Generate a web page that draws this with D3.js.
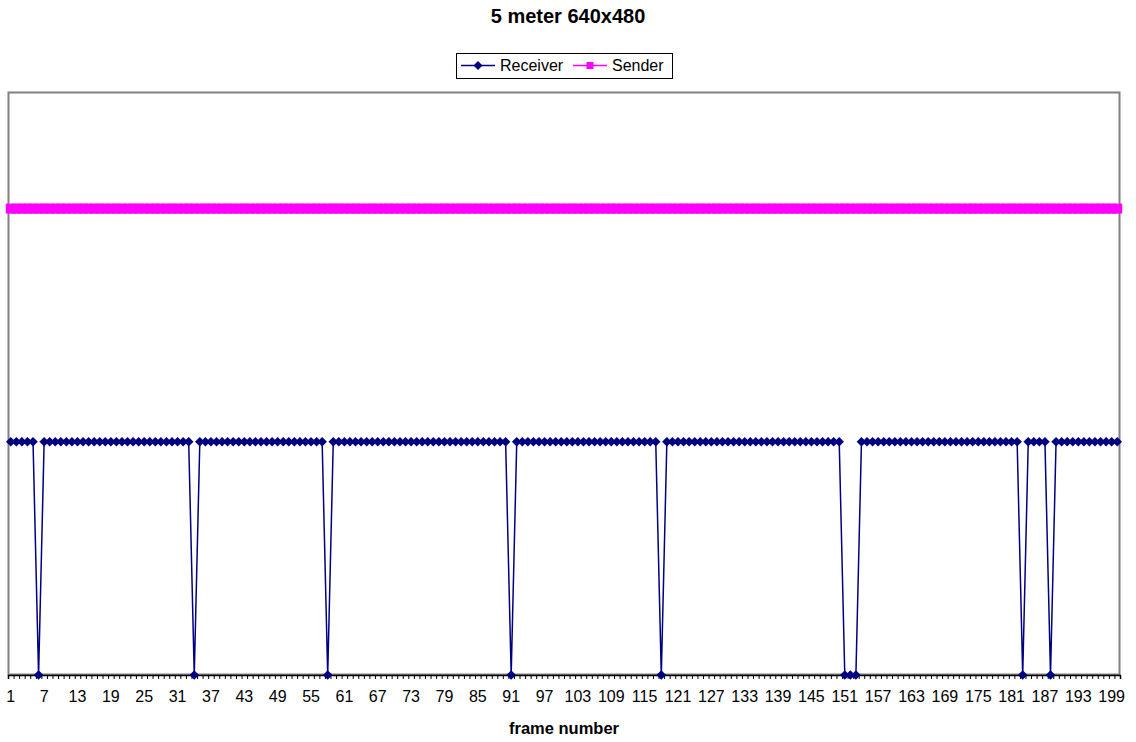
<!DOCTYPE html>
<html>
<head>
<meta charset="utf-8">
<script src="https://cdn.jsdelivr.net/npm/d3@7"></script>
<style>
  body { margin: 0; background: #fff; }
  text { font-family: Arial, "Liberation Sans", sans-serif; }
</style>
</head>
<body>
<div id="chart"></div>
<script>
// chart data
const title = "5 meter 640x480";
const xTitle = "frame number";
const seriesNames = ["Receiver", "Sender"];

// frame numbers 1..200
const frames = d3.range(1, 201);

// received frames (20 frames per row)
const receiver = [
    10, 10, 10, 10, 10, 0, 10, 10, 10, 10, 10, 10, 10, 10, 10, 10, 10, 10, 10, 10,
    10, 10, 10, 10, 10, 10, 10, 10, 10, 10, 10, 10, 10, 0, 10, 10, 10, 10, 10, 10,
    10, 10, 10, 10, 10, 10, 10, 10, 10, 10, 10, 10, 10, 10, 10, 10, 10, 0, 10, 10,
    10, 10, 10, 10, 10, 10, 10, 10, 10, 10, 10, 10, 10, 10, 10, 10, 10, 10, 10, 10,
    10, 10, 10, 10, 10, 10, 10, 10, 10, 10, 0, 10, 10, 10, 10, 10, 10, 10, 10, 10,
    10, 10, 10, 10, 10, 10, 10, 10, 10, 10, 10, 10, 10, 10, 10, 10, 10, 0, 10, 10,
    10, 10, 10, 10, 10, 10, 10, 10, 10, 10, 10, 10, 10, 10, 10, 10, 10, 10, 10, 10,
    10, 10, 10, 10, 10, 10, 10, 10, 10, 10, 0, 0, 0, 10, 10, 10, 10, 10, 10, 10,
    10, 10, 10, 10, 10, 10, 10, 10, 10, 10, 10, 10, 10, 10, 10, 10, 10, 10, 10, 10,
    10, 10, 0, 10, 10, 10, 10, 0, 10, 10, 10, 10, 10, 10, 10, 10, 10, 10, 10, 10
];

// sent frames (20 frames per row)
const sender = [
    20, 20, 20, 20, 20, 20, 20, 20, 20, 20, 20, 20, 20, 20, 20, 20, 20, 20, 20, 20,
    20, 20, 20, 20, 20, 20, 20, 20, 20, 20, 20, 20, 20, 20, 20, 20, 20, 20, 20, 20,
    20, 20, 20, 20, 20, 20, 20, 20, 20, 20, 20, 20, 20, 20, 20, 20, 20, 20, 20, 20,
    20, 20, 20, 20, 20, 20, 20, 20, 20, 20, 20, 20, 20, 20, 20, 20, 20, 20, 20, 20,
    20, 20, 20, 20, 20, 20, 20, 20, 20, 20, 20, 20, 20, 20, 20, 20, 20, 20, 20, 20,
    20, 20, 20, 20, 20, 20, 20, 20, 20, 20, 20, 20, 20, 20, 20, 20, 20, 20, 20, 20,
    20, 20, 20, 20, 20, 20, 20, 20, 20, 20, 20, 20, 20, 20, 20, 20, 20, 20, 20, 20,
    20, 20, 20, 20, 20, 20, 20, 20, 20, 20, 20, 20, 20, 20, 20, 20, 20, 20, 20, 20,
    20, 20, 20, 20, 20, 20, 20, 20, 20, 20, 20, 20, 20, 20, 20, 20, 20, 20, 20, 20,
    20, 20, 20, 20, 20, 20, 20, 20, 20, 20, 20, 20, 20, 20, 20, 20, 20, 20, 20, 20
];

const yMax = 25;
// labelled frames, every 6th
const tickLabels = d3.range(1, 201, 6);

// set dimensions
const width = 1136,
    height = 742,
    margin = { top: 92, right: 16, bottom: 67, left: 8 };

const svg = d3.select("#chart")
    .append("svg")
    .attr("width", width)
    .attr("height", height);

// scales
const xScale = d3.scaleBand()
    .domain(frames)
    .range([margin.left, width - margin.right])
    .padding(0);

const xEdge = d3.scaleLinear()
    .domain([0, frames.length])
    .range([margin.left, width - margin.right]);

const yScale = d3.scaleLinear()
    .domain([0, yMax])
    .range([height - margin.bottom, margin.top]);

const cx = d => xScale(d) + xScale.bandwidth() / 2;

// plot frame
svg.append("rect")
    .attr("x", margin.left + 0.5)
    .attr("y", margin.top + 0.5)
    .attr("width", width - margin.left - margin.right - 1)
    .attr("height", height - margin.top - margin.bottom - 1)
    .attr("fill", "none")
    .attr("stroke", "#808080")
    .attr("stroke-width", 2);

// small ticks on category edges
svg.append("g")
    .attr("transform", "translate(0," + (height - margin.bottom) + ")")
    .call(d3.axisBottom(xEdge)
        .tickValues(d3.range(0, frames.length + 1))
        .tickSize(4)
        .tickFormat(""))
    .call(g => g.select(".domain").attr("stroke", "#000").attr("stroke-width", 1.5))
    .call(g => g.selectAll(".tick line").attr("stroke", "#000"));

// labels
svg.append("g")
    .attr("transform", "translate(0," + (height - margin.bottom) + ")")
    .call(d3.axisBottom(xScale)
        .tickValues(tickLabels)
        .tickSize(0)
        .tickPadding(16))
    .call(g => g.select(".domain").remove())
    .call(g => g.selectAll("text")
        .attr("font-size", 16)
        .attr("font-family", "Arial, 'Liberation Sans', sans-serif")
        .attr("fill", "#000"));

// titles
svg.append("text")
    .attr("x", width / 2)
    .attr("y", 23)
    .attr("text-anchor", "middle")
    .attr("font-size", 20)
    .attr("font-weight", "bold")
    .text(title);

svg.append("text")
    .attr("x", (margin.left + width - margin.right) / 2)
    .attr("y", 734)
    .attr("text-anchor", "middle")
    .attr("font-size", 16.5)
    .attr("font-weight", "bold")
    .text(xTitle);

// lines
const line = d3.line()
    .x((d, i) => cx(frames[i]))
    .y(d => yScale(d));

const plot = svg.append("g");

plot.append("path")
    .datum(sender)
    .attr("d", line)
    .attr("fill", "none")
    .attr("stroke", "#ff00ff")
    .attr("stroke-width", 1.5);

plot.selectAll(".sq")
    .data(sender)
    .enter()
    .append("rect")
    .attr("class", "sq")
    .attr("x", (d, i) => cx(frames[i]) - 5)
    .attr("y", d => yScale(d) - 5)
    .attr("width", 10)
    .attr("height", 10)
    .attr("fill", "#ff00ff");

plot.append("path")
    .datum(receiver)
    .attr("d", line)
    .attr("fill", "none")
    .attr("stroke", "#000080")
    .attr("stroke-width", 1.5);

const diamond = (x, y, r) => `M${x},${y - r}L${x + r},${y}L${x},${y + r}L${x - r},${y}Z`;

plot.selectAll(".dm")
    .data(receiver)
    .enter()
    .append("path")
    .attr("class", "dm")
    .attr("d", (d, i) => diamond(cx(frames[i]), yScale(d), 4.8))
    .attr("fill", "#000080");

// legend
const legend = svg.append("g");
legend.append("rect")
    .attr("x", 456.5)
    .attr("y", 53.5)
    .attr("width", 216)
    .attr("height", 25)
    .attr("fill", "#fff")
    .attr("stroke", "#000");

const legendItems = [
    { name: seriesNames[0], color: "#000080", x: 461, shape: "diamond" },
    { name: seriesNames[1], color: "#ff00ff", x: 573, shape: "square" }
];

const item = legend.selectAll(".item")
    .data(legendItems)
    .enter()
    .append("g")
    .attr("transform", d => `translate(${d.x},65.5)`);

item.append("line")
    .attr("x1", 0).attr("x2", 34)
    .attr("stroke", d => d.color)
    .attr("stroke-width", 1.5);

item.filter(d => d.shape === "diamond")
    .append("path")
    .attr("d", diamond(17, 0, 4.5))
    .attr("fill", d => d.color);

item.filter(d => d.shape === "square")
    .append("rect")
    .attr("x", 13.5).attr("y", -3.5)
    .attr("width", 7).attr("height", 7)
    .attr("fill", d => d.color);

item.append("text")
    .attr("x", 39)
    .attr("y", 5.5)
    .attr("font-size", 16)
    .text(d => d.name);
</script>
</body>
</html>
